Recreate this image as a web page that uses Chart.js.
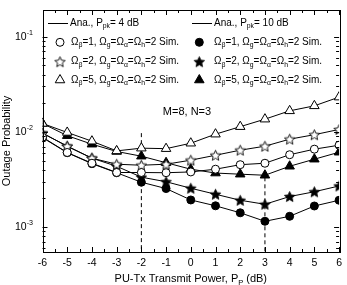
<!DOCTYPE html>
<html>
<head>
<meta charset="utf-8">
<script src="https://cdn.jsdelivr.net/npm/chart.js@4"></script>
<style>
  html, body { margin: 0; padding: 0; background: #fff; }
</style>
</head>
<body>
<canvas id="chart" width="347" height="285"></canvas>
<script>
// transmit power of PU-Tx (dB)
const powerDb = [-6, -5, -4, -3, -2, -1, 0, 1, 2, 3, 4, 5, 6];

// outage probability, Ppk = 4 dB (open markers)
const beta1Pk4 = [0.00879, 0.00607, 0.00468, 0.00374, 0.00374, 0.00372, 0.00379, 0.00405, 0.00452, 0.00468, 0.00575, 0.00658, 0.00724];
const beta2Pk4 = [0.00969, 0.00707, 0.00529, 0.00457, 0.00446, 0.00457, 0.00504, 0.00568, 0.00642, 0.00707, 0.00838, 0.00934, 0.0106];
const beta5Pk4 = [0.01226, 0.00986, 0.00798, 0.00631, 0.00674, 0.00666, 0.0076, 0.00946, 0.01134, 0.0136, 0.01664, 0.01878, 0.0232];

// outage probability, Ppk = 10 dB (filled markers)
const beta1Pk10 = [0.00869, 0.00604, 0.00463, 0.00372, 0.002955, 0.002536, 0.001924, 0.00167, 0.00141, 0.001148, 0.001296, 0.001663, 0.00191];
const beta2Pk10 = [0.00969, 0.00707, 0.00529, 0.00435, 0.00334, 0.00299, 0.002555, 0.00221, 0.00191, 0.001733, 0.00209, 0.002347, 0.0027];
const beta5Pk10 = [0.01226, 0.00912, 0.00742, 0.00622, 0.00555, 0.00474, 0.00405, 0.00369, 0.00359, 0.0035, 0.00435, 0.00516, 0.00611];

// optimum power markers (dashed verticals)
const optimumPower = [-2, 3];
const optimumTop = [0.0097, 0.00333];

const xTicks = [-6, -5, -4, -3, -2, -1, 0, 1, 2, 3, 4, 5, 6];
const yDecades = [1e-3, 1e-2, 1e-1];
const yExponents = ['-3', '-2', '-1'];

const Y_MIN = 5.46e-4, Y_MAX = 0.191;
const FONT = '"Liberation Sans", Arial, sans-serif';

function starImage(filled) {
    const c = document.createElement('canvas');
    c.width = 13; c.height = 13;
    const g = c.getContext('2d');
    const cx = 6.5, cy = 7, R = 5.5, r = 2.5;
    g.beginPath();
    for (let i = 0; i < 10; i++) {
        const a = -Math.PI / 2 + i * Math.PI / 5;
        const rad = i % 2 ? r : R;
        const px = cx + rad * Math.cos(a), py = cy + rad * Math.sin(a);
        i ? g.lineTo(px, py) : g.moveTo(px, py);
    }
    g.closePath();
    g.fillStyle = filled ? '#000' : '#fff';
    g.fill();
    g.strokeStyle = '#000';
    g.lineWidth = 0.9;
    g.stroke();
    return c;
}
const openStar = starImage(false);
const filledStar = starImage(true);

function series(values, style, filled, radius) {
    return {
        data: powerDb.map((p, i) => ({x: p, y: values[i]})),
        borderColor: '#000',
        borderWidth: 1,
        pointStyle: style,
        pointRadius: radius,
        pointBackgroundColor: filled ? '#000' : '#fff',
        pointBorderColor: '#000',
        pointBorderWidth: 1,
        tension: 0,
    };
}

function dashed(i) {
    return {
        data: [{x: optimumPower[i], y: optimumTop[i]}, {x: optimumPower[i], y: Y_MIN}],
        borderColor: '#000',
        borderWidth: 1,
        borderDash: [4, 3],
        pointRadius: 0,
    };
}

// draws text with sub/superscript parts: [[text, kind]]
function richText(ctx, parts, x, y, size) {
    let cx = x;
    parts.forEach(([t, kind]) => {
        const s = kind ? size * 0.68 : size;
        ctx.font = s + 'px ' + FONT;
        const dy = kind === 'sub' ? size * 0.32 : kind === 'sup' ? -size * 0.35 : 0;
        ctx.fillText(t, cx, y + dy);
        cx += ctx.measureText(t).width;
    });
    return cx - x;
}

function omegaLabel(b) {
    return [['Ω', ''], ['β', 'sub'], ['=' + b + ', Ω', ''], ['g', 'sub'], ['=Ω', ''], ['α', 'sub'],
            ['=Ω', ''], ['h', 'sub'], ['=2 Sim.', '']];
}

function marker(ctx, kind, filled, x, y) {
    ctx.save();
    ctx.fillStyle = filled ? '#000' : '#fff';
    ctx.strokeStyle = '#000';
    ctx.lineWidth = 1;
    if (kind === 'star') {
        const img = filled ? filledStar : openStar;
        ctx.drawImage(img, x - img.width / 2, y - img.height / 2);
    } else {
        ctx.beginPath();
        if (kind === 'circle') {
            ctx.arc(x, y, 4, 0, Math.PI * 2);
        } else {
            const r = 5.5;
            for (let i = 0; i < 3; i++) {
                const a = i * 2 * Math.PI / 3;
                const px = x + Math.sin(a) * r, py = y - Math.cos(a) * r;
                i ? ctx.lineTo(px, py) : ctx.moveTo(px, py);
            }
            ctx.closePath();
        }
        ctx.fill();
        ctx.stroke();
    }
    ctx.restore();
}

const decorations = {
    id: 'decorations',
    afterDraw(chart) {
        const ctx = chart.ctx;
        const a = chart.chartArea;
        const xs = chart.scales.x, ys = chart.scales.y;
        ctx.save();
        ctx.strokeStyle = '#000';
        ctx.fillStyle = '#000';
        ctx.lineWidth = 1;
        ctx.strokeRect(Math.round(a.left) + 0.5, Math.round(a.top) + 0.5,
                       Math.round(a.right - a.left), Math.round(a.bottom - a.top));

        // inward ticks, x
        ctx.beginPath();
        for (let v = -6; v <= 6; v += 0.5) {
            const px = Math.round(xs.getPixelForValue(v)) + 0.5;
            const len = Number.isInteger(v) ? 5 : 3;
            ctx.moveTo(px, a.bottom); ctx.lineTo(px, a.bottom - len);
            ctx.moveTo(px, a.top); ctx.lineTo(px, a.top + len);
        }
        // inward ticks, y
        for (let e = -4; e <= -1; e++) {
            for (let k = 1; k <= 9; k++) {
                const v = k * Math.pow(10, e);
                if (v < Y_MIN || v > Y_MAX) continue;
                const py = Math.round(ys.getPixelForValue(v)) + 0.5;
                const len = k === 1 ? 5 : 3;
                ctx.moveTo(a.left, py); ctx.lineTo(a.left + len, py);
                ctx.moveTo(a.right, py); ctx.lineTo(a.right - len, py);
            }
        }
        ctx.stroke();

        // y tick labels 10^n
        ctx.textBaseline = 'middle';
        ctx.textAlign = 'left';
        yDecades.forEach((v, i) => {
            const py = ys.getPixelForValue(v);
            richText(ctx, [['10', ''], [yExponents[i], 'sup']], 15, py, 10.5);
        });

        // y title
        ctx.save();
        ctx.translate(7, 141);
        ctx.rotate(-Math.PI / 2);
        ctx.textAlign = 'center';
        ctx.font = '11px ' + FONT;
        ctx.fillText('Outage Probability', 0, 0);
        ctx.restore();

        // x title
        ctx.textAlign = 'left';
        const xParts = [['PU-Tx Transmit Power, P', ''], ['P', 'sub'], [' (dB)', '']];
        const w = richText(ctx, xParts, -1000, 0, 11);
        richText(ctx, xParts, (a.left + a.right) / 2 - w / 2, 279, 11);

        // annotation
        ctx.font = '11px ' + FONT;
        ctx.textAlign = 'center';
        ctx.fillText('M=8, N=3', 187, 112);
        ctx.textAlign = 'left';

        // legend
        const rows = [23.3, 42.3, 61.7, 80];
        const cols = [{line: 48, mark: 60, text: 71, filled: false, pk: '4'},
                      {line: 192, mark: 199.3, text: 214, filled: true, pk: '10'}];
        const kinds = ['circle', 'star', 'triangle'];
        const betas = ['1', '2', '5'];
        cols.forEach(c => {
            ctx.beginPath();
            ctx.moveTo(c.line, Math.round(rows[0]) + 0.5);
            ctx.lineTo(c.line + 20, Math.round(rows[0]) + 0.5);
            ctx.stroke();
            richText(ctx, [['Ana., P', ''], ['pk', 'sub'], ['= ' + c.pk + ' dB', '']], c.line + 22, rows[0], 10);
            kinds.forEach((k, i) => {
                marker(ctx, k, c.filled, c.mark, rows[i + 1]);
                richText(ctx, omegaLabel(betas[i]), c.text, rows[i + 1], 10);
            });
        });
        ctx.restore();
    }
};

new Chart(document.getElementById('chart'), {
    type: 'line',
    data: {
        datasets: [
            series(beta1Pk4, 'circle', false, 4),
            series(beta2Pk4, openStar, false, 5),
            series(beta5Pk4, 'triangle', false, 5.5),
            series(beta1Pk10, 'circle', true, 4),
            series(beta2Pk10, filledStar, true, 5),
            series(beta5Pk10, 'triangle', true, 5.5),
            dashed(0),
            dashed(1),
        ],
    },
    options: {
        responsive: false,
        devicePixelRatio: 1,
        animation: false,
        layout: {padding: {top: 10, right: 5, left: 0, bottom: 0}},
        plugins: {
            legend: {display: false},
            tooltip: {enabled: false},
        },
        scales: {
            x: {
                type: 'linear',
                min: -6,
                max: 6,
                afterBuildTicks: s => { s.ticks = xTicks.map(v => ({value: v})); },
                ticks: {
                    color: '#000',
                    font: {size: 10.5, family: FONT},
                    padding: 5,
                    maxRotation: 0,
                },
                grid: {display: false, drawTicks: false},
                border: {display: false},
                afterFit: s => { s.height = 33; },
            },
            y: {
                type: 'logarithmic',
                min: Y_MIN,
                max: Y_MAX,
                ticks: {display: false},
                grid: {display: false, drawTicks: false},
                border: {display: false},
                afterFit: s => { s.width = 42.5; },
            },
        },
    },
    plugins: [decorations],
});
</script>
</body>
</html>
